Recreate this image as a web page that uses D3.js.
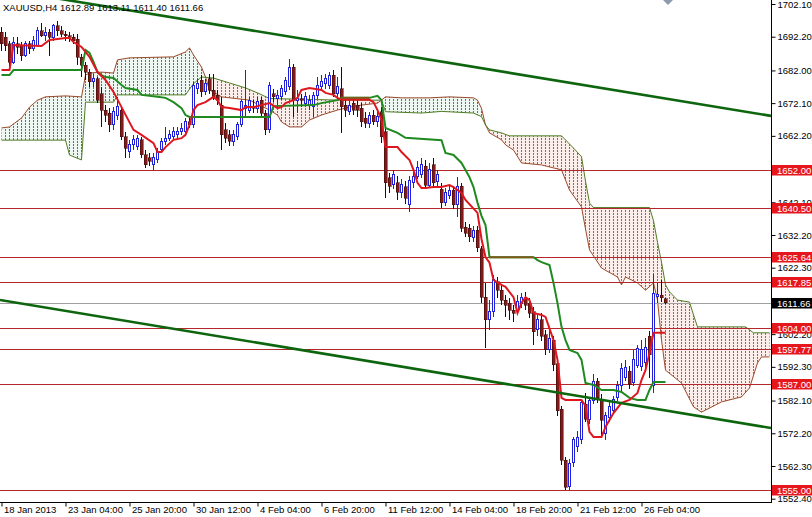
<!DOCTYPE html>
<html><head><meta charset="utf-8">
<script src="https://cdn.jsdelivr.net/npm/d3@7"></script>
<style>body{margin:0;background:#fff}svg{display:block}</style>
</head><body>
<svg id="c" width="812" height="517"></svg>
<script>
// ---------------- DATA ----------------
const chartTitle = "XAUUSD,H4  1612.89 1613.11 1611.40 1611.66";
const opens = [
1693.5,1692,1690,1684.5,1690,1689.5,1686.5,1690,1688.5,1689.5,
1694,1692.5,1693.5,1692,1695.5,1694,1693,1692.5,1692,1691.5,
1686,1683.5,1681.5,1678.5,1679.5,1675,1670,1669,1665.5,1668.5,
1670,1662,1657.5,1659.5,1659,1661,1656.5,1655.5,1653.5,1655,
1658,1660.5,1661.5,1662,1662.5,1663.5,1663.5,1666.5,1665.5,1676.5,
1679,1675.5,1679.5,1676,1674.5,1671.5,1664,1662.5,1660.5,1662,
1665.5,1670.5,1670,1671,1670.5,1673,1669,1664,1675,1673.5,
1674,1675.5,1677,1683,1673,1673.5,1672,1671.5,1671,1674.5,
1677,1678,1677.5,1680.5,1675,1676.5,1671.5,1669.5,1672,1671.5,
1670.5,1667.5,1666,1668.5,1666.5,1669.5,1663.5,1649.5,1647.5,1648,
1645,1646.8,1641.3,1648,1650,1650.5,1653,1647.3,1653.4,1648.5,
1646,1642,1644.3,1645.8,1641.5,1647,1634.5,1634.3,1631.3,1633.7,
1628,1613.4,1606.5,1609,1618,1615.5,1612.5,1611.5,1609.5,1609.5,
1611.5,1613,1611.5,1609,1603.5,1606.5,1602,1597.5,1600.4,1593.2,
1579.5,1564,1556,1563.5,1568.2,1570.2,1581,1576.5,1582,1588,
1582.3,1572.2,1577,1579,1583,1586.8,1589,1591,1587.5,1592.8,
1592.3,1593.5,1601.5,1586.8,1613.5,1614,1612.89];
const highs = [
1695,1693.5,1691,1692,1692,1690.5,1691,1691,1692.5,1695,
1696.5,1695,1694.5,1696,1697,1695.5,1694,1693.5,1693,1693,
1687,1684.5,1682.5,1681,1680,1677,1671.5,1670.5,1671,1674,
1671,1663.5,1661,1662.5,1662.5,1662,1658,1657,1657,1658.5,
1661.5,1665,1664,1665,1665,1666,1667.5,1668,1678.5,1679.5,
1680.5,1679.5,1681,1681,1676,1674,1666,1664,1664,1666.5,
1673.5,1682,1674,1673,1674,1674,1670,1678.5,1676.5,1676,
1677.5,1680,1685.5,1684,1676,1675,1675.5,1674.5,1675.5,1680,
1680.5,1681,1681.5,1682,1680,1683,1673,1673,1673.5,1673,
1672,1669.5,1669.5,1670,1669.5,1671,1665,1651,1652,1650,
1649,1648.5,1650,1652,1654.5,1655.5,1655,1654,1655.5,1652,
1648,1646.5,1647,1647,1649.8,1648,1636,1635.5,1635,1635,
1629,1617.7,1612.5,1620,1619.5,1617,1614,1613,1611,1614,
1614.5,1615,1613,1610.5,1608,1608.5,1603.5,1604,1601.5,1594,
1580.5,1565,1564.5,1571,1572.8,1582.5,1584.3,1583,1590,1589,
1584,1578.5,1582,1583.5,1588,1593.5,1594.5,1592.5,1597.5,1599,
1600.4,1601,1603,1620.5,1617.8,1618.5,1613.11];
const lows = [
1688,1688,1683,1684,1687,1685,1686,1687,1688,1689,
1692,1691,1686.5,1691,1692.5,1692,1691,1690.5,1690,1683.5,
1680,1679,1677,1677,1672,1665,1666.5,1663.5,1664,1667,
1661,1655.5,1655.5,1658,1658,1655.5,1652.5,1653,1652,1654,
1657,1659.5,1660.5,1661,1661,1662.5,1663,1664.5,1664.5,1675,
1674,1674.5,1675,1673,1671.5,1658,1660,1659,1659,1661,
1665,1668,1669,1669,1669,1667.5,1662.5,1663,1672.5,1671,
1673,1674.5,1676,1668,1669,1671,1671,1670,1668,1673.5,
1676,1676.5,1676.5,1674,1673.5,1663,1668,1668.5,1668.5,1668,
1665,1664.5,1664.5,1665.5,1665,1660,1643.5,1644.8,1646,1642.8,
1643.5,1641.5,1639.1,1646.5,1649,1649.5,1646,1646.5,1646.5,1647,
1640.5,1641,1643,1640,1637.6,1633,1631.5,1630,1630,1627,
1611.5,1598,1603.5,1607.5,1613,1611,1607.5,1606.5,1606,1608.5,
1610,1609.5,1607,1599,1601.5,1600,1596,1596.5,1591,1577.5,
1562.5,1555,1554.9,1562,1566.5,1569,1575.5,1575,1581,1581.5,
1571,1570.2,1575.5,1578,1582,1585,1588,1585.5,1586.5,1592,
1591,1592,1589,1584.4,1611.5,1612,1611.40];
const closes = [
1690,1689.5,1684.5,1690.5,1689,1686.5,1690,1688.5,1691,1694,
1692.5,1693.5,1692,1695.5,1694,1693,1692.5,1692,1691,1686,
1683.5,1681.5,1678.5,1679.5,1673,1670,1668.5,1665.5,1669.5,1671,
1662,1658.5,1659.5,1661,1661.5,1656.5,1653.5,1654.5,1655.5,1657.5,
1660.5,1661.5,1662.5,1663.5,1663.5,1664.5,1666.5,1665.5,1677.5,1678,
1675.5,1678,1676,1674,1673,1662.5,1661.5,1660.5,1662.5,1665.5,
1672.5,1671.5,1673,1670.5,1672.5,1669,1664,1677.5,1674,1674.5,
1676.5,1679,1683,1673,1673.5,1673,1674,1673,1674.5,1677.5,
1678.5,1679.5,1680.5,1675,1677,1671,1670,1671.5,1670,1670,
1666.5,1666,1668.5,1666.5,1668,1662,1648,1647,1650.5,1645.2,
1647.5,1643.3,1648.8,1649.8,1652.5,1653.5,1647.3,1651.9,1648,1650.5,
1642,1645,1645.8,1641.3,1647,1634.3,1632.8,1631.6,1633.7,1628.3,
1613.4,1606.5,1609,1618.6,1615.5,1612.5,1611,1609.5,1608.5,1612.2,
1613.2,1611,1608.5,1602.9,1606.5,1601.5,1597.5,1601,1592.9,1579,
1564,1555.9,1563.2,1570.2,1571,1581.4,1576.5,1582,1588,1583,
1576.2,1577.6,1580.2,1582.3,1586.7,1591.9,1592.2,1587,1594.4,1598,
1597.4,1598.3,1596,1614.6,1614.3,1613.2,1611.66];

// Ichimoku lines, [bar index, price]
const tenkan = [[0,1682.1],[2,1682.1],[3,1689.7],[10,1689.4],[12,1691.2],[16,1691.8],[17,1691.8],[18,1690.6],[20,1689.1],[22,1686.1],[24,1681.5],[26,1679.1],[28,1675.5],[30,1670.9],[33,1664.0],[35,1662.5],[38,1660.0],[39,1657.3],[40,1657.3],[41,1658.8],[43,1661.0],[45,1661.5],[46,1662.5],[47,1665.5],[48,1670.0],[49,1671.5],[51,1672.4],[53,1674.0],[54,1673.0],[55,1670.9],[57,1670.6],[60,1670.0],[61,1670.9],[63,1670.9],[65,1671.5],[67,1672.1],[69,1670.6],[70,1670.9],[71,1672.1],[73,1673.0],[74,1673.7],[75,1676.1],[77,1676.7],[80,1676.1],[81,1675.2],[83,1674.6],[84,1673.7],[85,1673.1],[92,1673.1],[93,1672.4],[94,1670.0],[95,1667.0],[96,1658.8],[99,1658.8],[100,1657.3],[102,1654.9],[103,1651.9],[104,1648.0],[105,1646.4],[106,1646.4],[108,1646.7],[110,1646.7],[112,1647.3],[113,1646.7],[115,1644.9],[116,1642.8],[119,1638.9],[120,1631.0],[121,1625.5],[122,1623.8],[123,1618.6],[125,1617.1],[126,1616.5],[128,1613.4],[129,1608.6],[130,1611.6],[131,1613.4],[132,1612.5],[133,1608.6],[135,1608.0],[136,1607.4],[138,1600.4],[139,1594.4],[140,1582.9],[141,1582.3],[145,1582.3],[146,1580.5],[147,1572.6],[148,1571.1],[150,1571.1],[151,1574.1],[152,1576.2],[153,1578.3],[155,1581.4],[157,1582.3],[159,1584.4],[160,1588.3],[161,1591.3],[162,1596.5],[163,1602.6],[166,1602.6]];
const kijun = [[0,1680.6],[2,1680.6],[3,1682.1],[20,1682.1],[21,1688.2],[22,1687.3],[23,1684.6],[24,1681.5],[25,1680.6],[26,1680.0],[28,1679.7],[30,1677.6],[31,1676.7],[34,1676.1],[35,1674.6],[39,1674.0],[41,1673.7],[43,1672.4],[45,1670.6],[46,1668.5],[47,1667.9],[67,1667.9],[68,1671.2],[78,1671.5],[80,1672.1],[84,1673.0],[85,1673.7],[92,1673.7],[94,1674.3],[95,1673.0],[96,1664.6],[99,1663.1],[101,1661.6],[110,1660.9],[111,1657.0],[113,1656.4],[115,1654.0],[116,1651.9],[117,1649.7],[118,1646.7],[119,1642.0],[120,1638.0],[121,1635.2],[122,1625.5],[133,1625.5],[134,1624.6],[135,1624.0],[137,1623.1],[138,1617.7],[139,1611.6],[140,1604.4],[141,1600.4],[142,1597.4],[144,1596.5],[145,1594.4],[146,1587.4],[148,1586.8],[150,1585.3],[153,1585.3],[155,1584.7],[157,1582.9],[159,1582.3],[161,1582.3],[162,1585.3],[163,1587.7],[166,1587.7]];
const kijunFlat = [[[85,1673.7],[92,1673.7]],[[122,1625.5],[133,1625.5]]];
const spanA = [[0,1664.6],[2,1664.9],[5,1667.6],[7,1670.9],[9,1673.0],[11,1674.0],[16,1674.3],[20,1674.0],[21,1680.6],[22,1681.2],[25,1681.5],[28,1681.2],[29,1685.2],[32,1685.8],[43,1686.1],[46,1687.6],[47,1688.8],[48,1686.7],[50,1683.0],[51,1680.0],[52,1676.1],[55,1674.0],[62,1673.0],[67,1670.0],[69,1668.5],[70,1666.4],[72,1664.9],[75,1664.9],[77,1667.0],[80,1668.5],[84,1670.0],[87,1670.9],[90,1671.5],[94,1672.1],[96,1674.0],[100,1673.7],[107,1673.7],[112,1674.0],[118,1673.7],[119,1673.0],[120,1670.5],[121,1665.5],[122,1663.1],[125,1661.0],[126,1659.5],[128,1657.9],[130,1654.0],[135,1653.4],[140,1651.9],[142,1645.8],[145,1640.7],[146,1634.0],[147,1627.7],[150,1622.2],[154,1619.5],[155,1617.1],[156,1619.5],[159,1617.7],[161,1615.5],[163,1617.7],[164,1612.5],[165,1600.4],[166,1591.3],[170,1587.4],[173,1580.2],[175,1578.6],[176,1579.2],[180,1581.7],[185,1583.2],[187,1585.9],[189,1593.5],[190,1595.3],[192,1595.3]];
const spanB = [[0,1660.9],[16,1660.9],[17,1656.4],[20,1654.9],[21,1672.4],[28,1672.4],[29,1674.6],[46,1674.6],[48,1678.0],[50,1680.0],[53,1679.7],[57,1678.2],[61,1676.7],[64,1675.2],[67,1673.5],[85,1673.0],[95,1673.0],[96,1669.5],[105,1669.1],[110,1669.6],[118,1669.1],[120,1668.0],[121,1665.5],[122,1664.0],[125,1663.1],[127,1662.2],[140,1662.2],[143,1658.5],[145,1655.9],[146,1648.5],[147,1641.9],[148,1640.5],[162,1640.5],[163,1636.5],[164,1630.0],[165,1624.0],[166,1617.1],[167,1615.0],[169,1612.5],[172,1611.9],[173,1608.0],[174,1604.4],[186,1604.4],[188,1602.6],[192,1602.6]];

const trendUpper = [[16,1703.4],[190,1668.75]];
const trendLower = [[0,1612.5],[190,1574.3]];
const levels = [1652.00,1640.50,1625.64,1617.85,1604.00,1597.77,1587.00,1555.00];
const lastPrice = 1611.66;
const priceTicks = [1702.10,1692.20,1682.00,1672.10,1662.20,1642.10,1632.20,1622.30,1602.20,1592.30,1582.10,1572.20,1562.30,1552.40];
const timeTickIndex = [0,16,32,48,64,80,96,112,128,144,160];
const timeTickLabels = ["18 Jan 2013","23 Jan 04:00","25 Jan 20:00","30 Jan 12:00","4 Feb 04:00","6 Feb 20:00","11 Feb 12:00","14 Feb 04:00","18 Feb 20:00","21 Feb 12:00","26 Feb 04:00"];

// ---------------- DRAW ----------------
const W = 812, H = 517, plotW = 771, plotH = 502;
const FONT = "Liberation Sans, Arial, sans-serif";
const svg = d3.select("#c");
const x = d3.scaleLinear().domain([0, 192]).range([1, 769]);
const y = d3.scaleLinear().domain([1552.4, 1702.1]).range([498.7, 4]);

const defs = svg.append("defs");
defs.append("clipPath").attr("id","plot").append("rect").attr("x",0).attr("y",0).attr("width",plotW).attr("height",plotH);
function dotPattern(id, color, tint){
  const p = defs.append("pattern").attr("id",id).attr("patternUnits","userSpaceOnUse")
    .attr("width",4).attr("height",3);
  p.append("rect").attr("x",0).attr("y",0).attr("width",4).attr("height",3).attr("fill",tint);
  p.append("rect").attr("x",1).attr("y",0).attr("width",1).attr("height",2).attr("fill",color)
    .attr("shape-rendering","crispEdges");
}
dotPattern("dotG","#1f9a4c","#eef7f1");
dotPattern("dotR","#de4a30","#fcefeb");

const px = d => [x(d[0]) + 0.5, y(d[1])];
const aPts = spanA.map(px), bPts = spanB.map(px);
const cloudPoly = aPts.concat(bPts.slice().reverse());
const xl = x(0) - 6, xr = x(192) + 6;
const bExt = [[xl, bPts[0][1]]].concat(bPts, [[xr, bPts[bPts.length-1][1]]]);
defs.append("clipPath").attr("id","aboveB").append("path")
  .attr("d", d3.line()(bExt.concat([[xr,-20],[xl,-20]])) + "Z");
defs.append("clipPath").attr("id","belowB").append("path")
  .attr("d", d3.line()(bExt.concat([[xr,700],[xl,700]])) + "Z");

const plot = svg.append("g").attr("clip-path","url(#plot)");

// cloud
const polyD = d3.line()(cloudPoly) + "Z";
plot.append("g").attr("clip-path","url(#aboveB)").append("path").attr("d",polyD).attr("fill","url(#dotG)");
plot.append("g").attr("clip-path","url(#belowB)").append("path").attr("d",polyD).attr("fill","url(#dotR)");
const line = d3.line().x(d => x(d[0]) + 0.5).y(d => y(d[1]));
plot.append("path").attr("d", line(spanA)).attr("fill","none").attr("stroke","#9a4a2c").attr("stroke-width",1);
plot.append("path").attr("d", line(spanB)).attr("fill","none").attr("stroke","#4f7d24").attr("stroke-width",1);

// horizontal levels
plot.selectAll("line.lvl").data(levels).join("line").attr("class","lvl")
  .attr("x1",0).attr("x2",plotW).attr("y1",d=>Math.round(y(d))+0.5).attr("y2",d=>Math.round(y(d))+0.5)
  .attr("stroke","#b3262b").attr("stroke-width",1);
plot.append("line").attr("x1",0).attr("x2",plotW)
  .attr("y1",Math.round(y(lastPrice))+0.5).attr("y2",Math.round(y(lastPrice))+0.5)
  .attr("stroke","#a0a0a0").attr("stroke-width",1);

// header text
svg.append("text").attr("x",3).attr("y",11).attr("font-family",FONT).attr("font-size","9.5px")
  .attr("fill","#000").text(chartTitle);

// candles
const idx = d3.range(opens.length);
const cg = plot.append("g").attr("shape-rendering","crispEdges");
cg.selectAll("line.wick").data(idx).join("line").attr("class","wick")
  .attr("x1",i=>x(i)+0.5).attr("x2",i=>x(i)+0.5)
  .attr("y1",i=>y(highs[i])).attr("y2",i=>y(lows[i]))
  .attr("stroke",i=>closes[i]>=opens[i] ? "#1f22d8" : "#1a0d0d").attr("stroke-width",1);
cg.selectAll("rect.bear").data(idx.filter(i=>closes[i]<opens[i])).join("rect").attr("class","bear")
  .attr("x",i=>x(i)-1).attr("width",3)
  .attr("y",i=>y(opens[i])).attr("height",i=>Math.max(1,y(closes[i])-y(opens[i])))
  .attr("fill","#821a1a").attr("stroke","#2a0808").attr("stroke-width",0.5);
cg.selectAll("rect.bull").data(idx.filter(i=>closes[i]>=opens[i])).join("rect").attr("class","bull")
  .attr("x",i=>x(i)-0.5).attr("width",2)
  .attr("y",i=>y(closes[i])).attr("height",i=>Math.max(1,y(opens[i])-y(closes[i])))
  .attr("fill","#fff").attr("stroke","#1f22d8").attr("stroke-width",1);

// tenkan / kijun
plot.append("path").attr("d", line(kijun)).attr("fill","none").attr("stroke","#1f8a1f").attr("stroke-width",2);
kijunFlat.forEach(seg => plot.append("path").attr("d", line(seg)).attr("fill","none").attr("stroke","#7d5a1c").attr("stroke-width",2));
plot.append("path").attr("d", line(tenkan)).attr("fill","none").attr("stroke","#e0161e").attr("stroke-width",2);

// trend lines
function extend(pts){
  const x1 = x(pts[0][0]), y1 = y(pts[0][1]), x2 = x(pts[1][0]), y2 = y(pts[1][1]);
  const m = (y2 - y1) / (x2 - x1);
  return [[0, y1 - x1*m],[plotW, y1 + (plotW - x1)*m]];
}
[trendUpper, trendLower].forEach(t => {
  plot.append("path").attr("d", d3.line()(extend(t))).attr("fill","none")
    .attr("stroke","#0d650d").attr("stroke-width",2.6);
});

// shift marker
const mx = x(opens.length - 1) + 3;
svg.append("path").attr("d", d3.line()([[mx-5,0],[mx+5,0],[mx,5]]) + "Z").attr("fill","#8c9bb0");

// axes
const yAxis = d3.axisRight(y).tickValues(priceTicks).tickSize(4).tickFormat(d3.format(".2f"));
const ya = svg.append("g").attr("transform",`translate(${plotW+0.5},0)`).call(yAxis);
ya.select(".domain").remove();
ya.selectAll("text").attr("font-family",FONT).attr("font-size","9.5px").attr("fill","#000").attr("x",6);
ya.selectAll("line").attr("stroke","#000");

const xAxis = d3.axisBottom(x).tickValues(timeTickIndex).tickSize(4).tickFormat((d,i)=>timeTickLabels[i]);
const xa = svg.append("g").attr("transform",`translate(0.5,${plotH+0.5})`).call(xAxis);
xa.select(".domain").remove();
xa.selectAll("text").attr("font-family",FONT).attr("font-size","9.5px").attr("fill","#000")
  .attr("text-anchor","start").attr("x",2).attr("dy","0.55em").attr("y",5);
xa.selectAll("line").attr("stroke","#000");

svg.append("line").attr("x1",plotW+0.5).attr("x2",plotW+0.5).attr("y1",0).attr("y2",plotH+1).attr("stroke","#000");
svg.append("line").attr("x1",0).attr("x2",plotW+1).attr("y1",plotH+0.5).attr("y2",plotH+0.5).attr("stroke","#000");

// level labels
const lab = svg.append("g");
levels.forEach(v => {
  const yy = Math.round(y(v));
  lab.append("rect").attr("x",plotW+1).attr("y",yy-5).attr("width",W-plotW-1).attr("height",10.5).attr("fill","#e5161c");
  lab.append("text").attr("x",plotW+6).attr("y",yy+3.5).attr("font-family",FONT).attr("font-size","9.5px")
    .attr("fill","#fff").text(d3.format(".2f")(v));
});
{
  const yy = Math.round(y(lastPrice));
  lab.append("rect").attr("x",plotW+1).attr("y",yy-5).attr("width",W-plotW-1).attr("height",10.5).attr("fill","#000");
  lab.append("text").attr("x",plotW+6).attr("y",yy+3.5).attr("font-family",FONT).attr("font-size","9.5px")
    .attr("fill","#fff").text(d3.format(".2f")(lastPrice));
}
</script>
</body></html>
